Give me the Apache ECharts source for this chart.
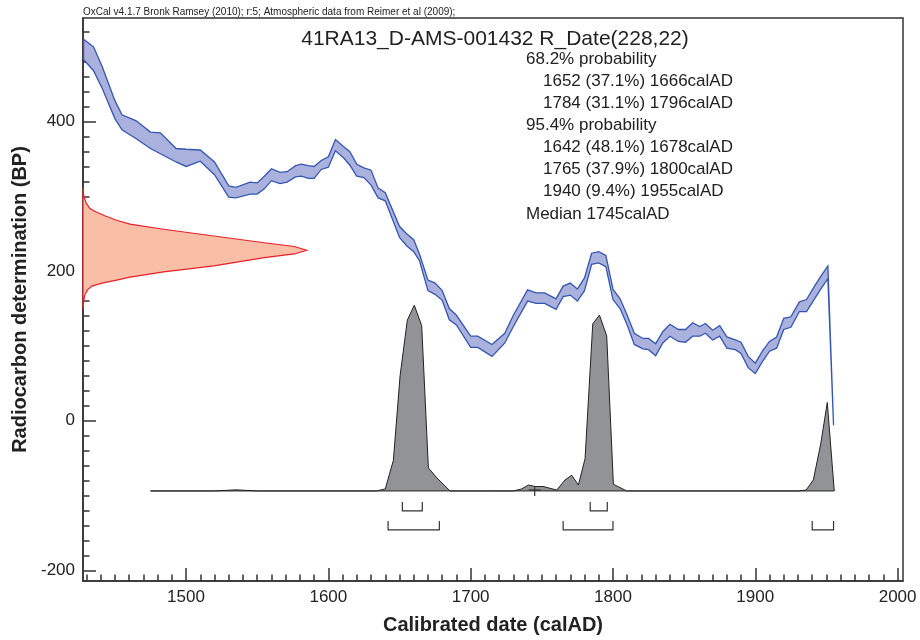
<!DOCTYPE html>
<html><head><meta charset="utf-8">
<script src="https://cdn.jsdelivr.net/npm/echarts@6/dist/echarts.min.js"></script>
<style>html,body{margin:0;padding:0;background:#fff}#c{width:920px;height:640px}</style>
</head><body><div id="c"></div>
<script>
// ---------- data ----------
var headerText = 'OxCal v4.1.7 Bronk Ramsey (2010); r:5; Atmospheric data from Reimer et al (2009);';
var titleText = '41RA13_D-AMS-001432 R_Date(228,22)';
var annotLines = ['68.2% probability','1652 (37.1%) 1666calAD','1784 (31.1%) 1796calAD','95.4% probability','1642 (48.1%) 1678calAD','1765 (37.9%) 1800calAD','1940 (9.4%) 1955calAD','Median 1745calAD'];
var annotIndent = [0,1,1,0,1,1,1,0];

var xMajorTicks = [1500,1600,1700,1800,1900,2000];
var yMajorTicks = [-200,0,200,400];

// calibration curve (1 sigma band), BP
var bandYears = [1428,1435,1441,1450,1455,1465,1475,1482,1493,1500,1510,1520,1530,1535,1545,1550,1555,1560,1566,1571,1577,1581,1586,1590,1595,1600,1605,1611,1615,1620,1625,1630,1635,1640,1650,1655,1660,1664,1670,1675,1680,1685,1690,1700,1705,1715,1724,1730,1740,1746,1752,1757,1760,1765,1770,1775,1780,1785,1790,1795,1800,1805,1810,1815,1821,1825,1830,1835,1840,1846,1851,1856,1861,1865,1870,1875,1880,1886,1890,1895,1900,1905,1910,1915,1920,1925,1931,1936,1941,1946,1951,1955];
var bandUpper = [510,500,474,428,409,401,386,385,364,363,362,346,314,312,319,318,327,337,332,333,341,343,341,340,348,353,376,366,360,343,338,335,311,305,260,250,242,223,188,184,174,150,141,113,113,102,117,141,175,171,171,166,163,180,184,176,191,224,226,221,176,163,141,117,110,110,103,119,129,122,122,131,126,130,121,127,112,108,105,86,77,93,106,112,137,139,159,162,178,193,207,-6];
var bandLower = [483,468,445,404,389,377,364,357,346,340,347,329,299,298,303,303,310,321,317,319,326,327,324,324,336,339,361,351,342,327,325,315,298,294,245,234,226,214,174,169,161,135,128,98,98,86,104,126,160,157,157,152,149,166,168,160,174,209,211,206,162,150,128,102,96,95,87,104,113,106,105,113,113,117,108,113,97,95,90,71,63,79,93,97,122,125,146,146,161,176,190,-6];

// radiocarbon likelihood R_Date(228,22): relative probability vs BP
var likeBP = [311,304,300,291,284,280,274,268,263,256,247,238,233,228,223,218,207,199,192,188,184,180,175,168,160,150];
var likeP  = [0,0.002,0.004,0.014,0.03,0.052,0.097,0.15,0.21,0.36,0.585,0.81,0.945,1.0,0.945,0.81,0.585,0.36,0.21,0.15,0.085,0.04,0.02,0.008,0.003,0];

// calibrated posterior: relative probability vs calendar year
var postYears = [1475,1520,1535,1550,1634,1640,1645.7,1650.4,1655.5,1660.4,1665.6,1670.3,1676.2,1685.5,1730,1735.9,1740.6,1745.3,1751,1760.5,1766.3,1771,1775.7,1780.4,1785.8,1790.5,1795.6,1800.3,1809.7,1930,1935.7,1940.8,1946,1950.6,1955.5];
var postProb  = [0,0,0.006,0,0,0.011,0.165,0.62,0.92,1.0,0.89,0.124,0.071,0,0,0.011,0.032,0.024,0.024,0.005,0.059,0.085,0.032,0.174,0.9,0.947,0.835,0.036,0,0,0.005,0.059,0.254,0.476,0];

var range68 = [[1652,1666],[1784,1796]];
var range95 = [[1642,1678],[1765,1800],[1940,1955]];
var medianYear = 1745;

// ---------- layout ----------
var FONT = '"Liberation Sans", Arial, Helvetica, sans-serif';
var X_MIN = 1427.6, X_MAX = 2003.8;
var Y_MIN = -214.3, Y_MAX = 538.5;
var P_MIN = -0.4848, P_MAX = 2.5466;   // posterior axis (baseline at 0, peak at 1)
var L_MAX = 3.666;                      // likelihood axis (peak at 1)

var xMinor = [], yMinor = [];
for (var v = 1430; v <= 2000; v += 10) if (v % 100) xMinor.push(v);
for (var w = -200; w <= 520; w += 20) if (w % 200) yMinor.push(w);

var bandPts = [];
for (var i = 0; i < bandYears.length; i++) bandPts.push([bandYears[i], bandUpper[i]]);
for (var j = bandYears.length - 1; j >= 0; j--) bandPts.push([bandYears[j], bandLower[j]]);
var likePts = likeBP.map(function (b, k) { return [likeP[k], b]; });
var postPts = postYears.map(function (y, k) { return [y, postProb[k]]; });

function polySeries(points, xi, yi, style, z, anchor) {
  return {
    type: 'custom', xAxisIndex: xi, yAxisIndex: yi, z: z, silent: true, clip: false,
    data: [anchor],
    renderItem: function (params, api) {
      var pts = points.map(function (p) { return api.coord(p); });
      return { type: 'polygon', shape: { points: pts }, style: style };
    }
  };
}

var plainNum = function (v) { return String(v); };
var tickLine = { color: '#333', width: 1.5 };
var option = {
  animation: false,
  backgroundColor: '#fff',
  grid: { left: 83, top: 18, right: 17, bottom: 53, show: true, borderColor: '#333', borderWidth: 1.5, backgroundColor: 'transparent' },
  xAxis: [
    { type: 'value', min: X_MIN, max: X_MAX, position: 'bottom',
      axisLine: { show: true, onZero: false, lineStyle: tickLine },
      axisTick: { show: true, inside: true, length: 13, customValues: xMajorTicks, lineStyle: tickLine },
      axisLabel: { show: true, customValues: xMajorTicks, formatter: plainNum, fontSize: 17, color: '#222', margin: 8, fontFamily: FONT },
      splitLine: { show: false },
      name: 'Calibrated date (calAD)', nameLocation: 'middle', nameGap: 34,
      nameTextStyle: { fontSize: 20, fontWeight: 'bold', color: '#222', fontFamily: FONT } },
    { type: 'value', min: X_MIN, max: X_MAX, position: 'bottom',
      axisLine: { show: false, onZero: false },
      axisTick: { show: true, inside: true, length: 6.5, customValues: xMinor, lineStyle: tickLine },
      axisLabel: { show: false }, splitLine: { show: false } },
    { type: 'value', min: 0, max: L_MAX, show: false, position: 'top', splitLine: { show: false } }
  ],
  yAxis: [
    { type: 'value', min: Y_MIN, max: Y_MAX, position: 'left',
      axisLine: { show: true, onZero: false, lineStyle: tickLine },
      axisTick: { show: true, inside: true, length: 13, customValues: yMajorTicks, lineStyle: tickLine },
      axisLabel: { show: true, customValues: yMajorTicks, formatter: plainNum, fontSize: 17, color: '#222', margin: 8, fontFamily: FONT },
      splitLine: { show: false },
      name: 'Radiocarbon determination (BP)', nameLocation: 'middle', nameGap: 47,
      nameTextStyle: { fontSize: 20, fontWeight: 'bold', color: '#222', fontFamily: FONT } },
    { type: 'value', min: Y_MIN, max: Y_MAX, position: 'left',
      axisLine: { show: false, onZero: false },
      axisTick: { show: true, inside: true, length: 6.5, customValues: yMinor, lineStyle: tickLine },
      axisLabel: { show: false }, splitLine: { show: false } },
    { type: 'value', min: P_MIN, max: P_MAX, show: false, position: 'right', splitLine: { show: false } }
  ],
  graphic: (function () {
    var g = [
      { type: 'text', x: 83, y: 12, style: { text: headerText, font: '10px ' + FONT, fill: '#222', align: 'left', verticalAlign: 'middle' } },
      { type: 'text', x: 495, y: 39, style: { text: titleText, font: '21px ' + FONT, fill: '#222', align: 'center', verticalAlign: 'middle' } }
    ];
    annotLines.forEach(function (t, k) {
      g.push({ type: 'text', x: annotIndent[k] ? 543 : 526, y: 59.5 + k * 22.05,
        style: { text: t, font: '17px ' + FONT, fill: '#222', align: 'left', verticalAlign: 'middle' } });
    });
    return g;
  })(),
  series: [
    polySeries(likePts, 2, 0, { fill: '#f9bfa6', stroke: '#e8202a', lineWidth: 1.2 }, 2, [0.5, 228]),
    polySeries(bandPts, 0, 0, { fill: '#aab1dc', stroke: '#3556b0', lineWidth: 1.3 }, 3, [1600, 300]),
    polySeries(postPts, 0, 2, { fill: '#929396', stroke: '#222', lineWidth: 1 }, 4, [1700, 0.5]),
    { type: 'custom', xAxisIndex: 0, yAxisIndex: 2, z: 5, silent: true, clip: false, data: [[1700, 0]],
      renderItem: function (params, api) {
        var children = [];
        var st = { stroke: '#333', lineWidth: 1.2, fill: null };
        function bracket(r, off) {
          var a = api.coord([r[0], 0]), b = api.coord([r[1], 0]);
          var yb = a[1] + off;
          children.push({ type: 'polyline', shape: { points: [[a[0], yb - 9], [a[0], yb], [b[0], yb], [b[0], yb - 9]] }, style: st });
        }
        range68.forEach(function (r) { bracket(r, 20); });
        range95.forEach(function (r) { bracket(r, 39); });
        var m = api.coord([medianYear, 0]);
        children.push({ type: 'line', shape: { x1: m[0], y1: m[1] - 5, x2: m[0], y2: m[1] + 5 }, style: st });
        children.push({ type: 'line', shape: { x1: m[0] - 6, y1: m[1] - 1, x2: m[0] + 6, y2: m[1] - 1 }, style: st });
        return { type: 'group', children: children };
      } }
  ]
};
var chart = echarts.init(document.getElementById('c'), null, { renderer: 'canvas' });
chart.setOption(option);
</script></body></html>
